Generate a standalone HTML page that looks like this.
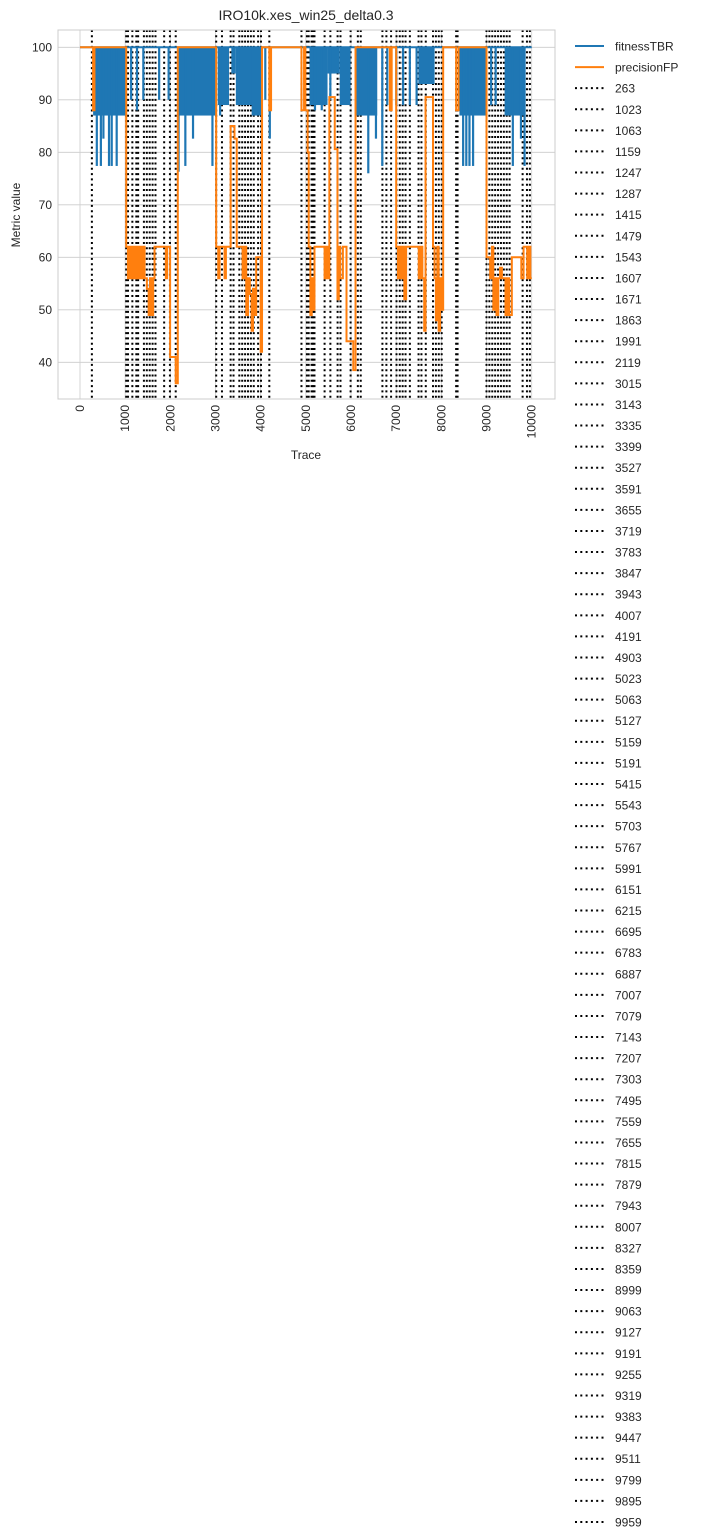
<!DOCTYPE html>
<html><head><meta charset="utf-8"><style>
html,body{margin:0;padding:0;background:#fff;}
svg{display:block;font-family:"Liberation Sans",Arial,sans-serif;}
</style></head><body>
<svg id="chart" width="703" height="1538" viewBox="0 0 703 1538" xmlns="http://www.w3.org/2000/svg">
<text x="306" y="20" font-size="14" text-anchor="middle" fill="#262626">IRO10k.xes_win25_delta0.3</text>
<g id="grid"></g><g id="vl"></g><g id="series"></g><g id="axes"></g><g id="legend"></g>
<text x="306" y="459" font-size="12" text-anchor="middle" fill="#262626">Trace</text>
<text transform="translate(20,215) rotate(-90)" font-size="12" text-anchor="middle" fill="#262626">Metric value</text>
</svg>
<script>
const drifts=[263,1023,1063,1159,1247,1287,1415,1479,1543,1607,1671,1863,1991,2119,3015,3143,3335,3399,3527,3591,3655,3719,3783,3847,3943,4007,4191,4903,5023,5063,5127,5159,5191,5415,5543,5703,5767,5991,6151,6215,6695,6783,6887,7007,7079,7143,7207,7303,7495,7559,7655,7815,7879,7943,8007,8327,8359,8999,9063,9127,9191,9255,9319,9383,9447,9511,9799,9895,9959];
const precX=[0,290,320,1023,1060,1080,1120,1150,1180,1220,1250,1280,1320,1340,1380,1400,1430,1480,1520,1550,1580,1620,1650,1900,1930,1995,2119,2165,3015,3060,3090,3200,3230,3335,3420,3470,3600,3640,3680,3720,3760,3800,3830,3860,3900,4000,4030,4191,4230,4903,4960,4990,5040,5063,5100,5130,5160,5191,5415,5440,5480,5520,5640,5700,5730,5760,5820,5900,6050,6100,6860,6900,7000,7040,7080,7110,7140,7180,7220,7500,7540,7580,7620,7650,7815,7850,7880,7910,7940,7970,8000,8040,8327,8380,9000,9080,9120,9150,9180,9220,9260,9300,9340,9420,9460,9500,9560,9770,9820,9900,9940,9970,10000];
const precY=[100,88,100,62,56,62,56,62,56,62,56,62,56,62,56,62,56,54,49,56,49,56,62,56,62,41,36,100,62,56,62,56,62,85,82.6,62,56,62,49,56,53,46,54,49,60,42,100,88,100,88,100,88,80,62,49,56,50,62,56,62,56,90.5,80.6,52,62,56,62,44,38.5,100,88,100,62,56,62,56,62,52,62,56,62,56,46,90.5,62,56,48,62,46,56,50,100,88,100,60,56,62,50,56,49,56,58,56,49,56,49,60,56,62,56,62,56,56];
const bandStart=[290,2150,3050,3350,3450,3800,5080,5480,5750,6100,7490,8400,9400];
const bandEnd=[1020,3000,3300,3450,3900,4020,5480,5750,5990,6580,7850,9000,9850];
const bandLow=[87,87,89,95,89,87,89,95,89,87,93,87,87];
const dipX=[370,460,516,640,700,810,1130,1260,1400,1750,1960,2180,2330,2500,2930,3100,3500,4100,4200,5200,5350,5540,6380,6550,6690,6800,7000,7150,7300,7450,8480,8550,8620,8700,9100,9200,9580,9760,9840];
const dipY=[77.4,77.4,82.6,77.4,77.4,77.4,90,88,90,90,90,76.3,77.4,82.6,77.4,87,89,90,82.6,88,88,90,76,82.6,77.4,89,89,89,89,89,77.4,77.4,77.4,77.4,89,89,77.4,82.6,77.4];
const yTicks=[40,50,60,70,80,90,100];
const xTicks=[0,1000,2000,3000,4000,5000,6000,7000,8000,9000,10000];
const NS="http://www.w3.org/2000/svg";
const L=58,R=555,T=30,B=399;
function xs(t){return 80+t*0.04517;}
function ys(v){return 47.3+(100-v)*5.25;}
function mk(tag,attrs,parent){const e=document.createElementNS(NS,tag);for(const k in attrs)e.setAttribute(k,attrs[k]);parent.appendChild(e);return e;}
const grid=document.getElementById('grid'),axes=document.getElementById('axes'),vl=document.getElementById('vl'),ser=document.getElementById('series'),leg=document.getElementById('legend');
yTicks.forEach(v=>{const g=mk('line',{x1:L,x2:R,y1:ys(v),y2:ys(v),stroke:'#cccccc','stroke-width':0.8},grid);


const t=mk('text',{x:L-6,y:ys(v)+4,'font-size':12,'text-anchor':'end',fill:'#262626'},axes);t.textContent=v;

});
xTicks.forEach(v=>{const g=mk('line',{x1:xs(v),x2:xs(v),y1:T,y2:B,stroke:'#cccccc','stroke-width':0.8},grid);


const t=mk('text',{transform:`translate(${xs(v)+4},${B+6}) rotate(-90)`,'font-size':12,'text-anchor':'end',fill:'#262626'},axes);t.textContent=v;

});
const fr=mk('rect',{x:L,y:T,width:R-L,height:B-T,fill:'none',stroke:'#cccccc','stroke-width':1},axes);


const fl=mk('line',{x1:xs(0),x2:xs(10000),y1:ys(100),y2:ys(100),stroke:'#1f77b4','stroke-width':2},ser);


bandStart.forEach((s,i)=>{const r=mk('rect',{x:xs(s),y:ys(100),width:xs(bandEnd[i])-xs(s),height:ys(bandLow[i])-ys(100),fill:'#1f77b4'},ser);

});
dipX.forEach((s,i)=>{const d=mk('rect',{x:xs(s)-1,y:ys(100),width:2.2,height:ys(dipY[i])-ys(100),fill:'#1f77b4'},ser);

});
let p='';precX.forEach((x,i)=>{if(i==0)p+=`M${xs(x)},${ys(precY[i])}`;else p+=`H${xs(x)}V${ys(precY[i])}`;});
const po=mk('path',{d:p,fill:'none',stroke:'#ff7f0e','stroke-width':2},ser);


drifts.forEach(d=>{const l=mk('line',{x1:xs(d),x2:xs(d),y1:T,y2:B,stroke:'#000','stroke-width':2,'stroke-dasharray':'2 3.3'},vl);

});
const names=['fitnessTBR','precisionFP'].concat(drifts.map(String));
const step=(1522-46)/(names.length-1);
names.forEach((n,i)=>{const y=46+i*step;
let col=i==0?'#1f77b4':(i==1?'#ff7f0e':'#000');
const l=mk('line',{x1:575,x2:604,y1:y,y2:y,'stroke-width':i>1?2:2,stroke:col},leg);
if(i>1)l.setAttribute('stroke-dasharray','2 3.3');


const t=mk('text',{x:615,y:y+4.5,'font-size':12,fill:'#262626'},leg);t.textContent=n;

});
</script>
</body></html>
